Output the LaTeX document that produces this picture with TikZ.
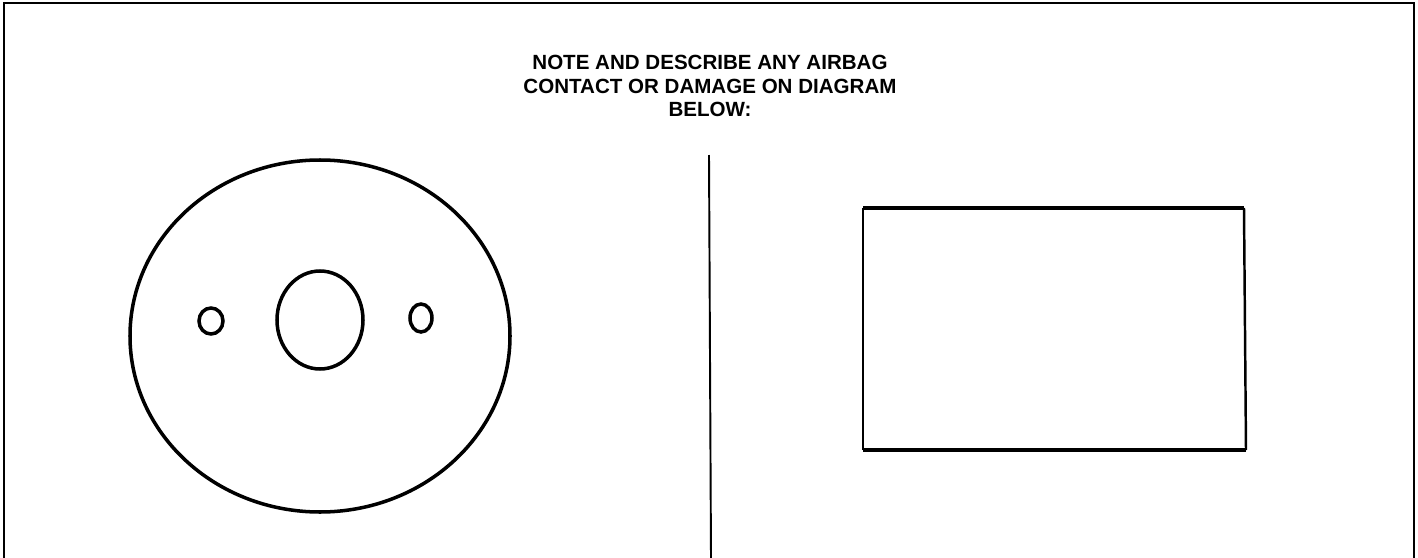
\documentclass[tikz,border=0pt]{standalone}
\usepackage{fontspec}
\setmainfont{Liberation Sans}
\usepackage{tikz}

\begin{document}
\begin{tikzpicture}[x=0.02cm,y=-0.02cm]
   \useasboundingbox (0,0) rectangle (1418,558);
   % frame of the box
   \draw[line width=1.3pt] (4,558)--(4,3)--(1414,3)--(1414,558);
   \node[font=\bfseries\fontsize{11.7}{13.3}\selectfont,align=center] (note) at (710,86)
      {NOTE AND DESCRIBE ANY AIRBAG\\CONTACT OR DAMAGE ON DIAGRAM\\BELOW:};
   % divider
   \draw[line width=1.1pt] (709,155)--(711,558);
   % wheel
   \draw[line width=2pt] (320,336) ellipse (190 and 176);
   \draw[line width=2pt] (320,320) ellipse (43 and 49);
   \draw[line width=2pt] (211,321) ellipse (12 and 13);
   \draw[line width=2pt] (421,318) ellipse (11 and 14);
   % panel
   \draw[line width=2pt] (863,208)--(1244,208);
   \draw[line width=2pt] (863,450)--(1246,450);
   \draw[line width=1.4pt] (863,208)--(863,450);
   \draw[line width=1.4pt] (1244,208)--(1246,450);
\end{tikzpicture}
\end{document}
